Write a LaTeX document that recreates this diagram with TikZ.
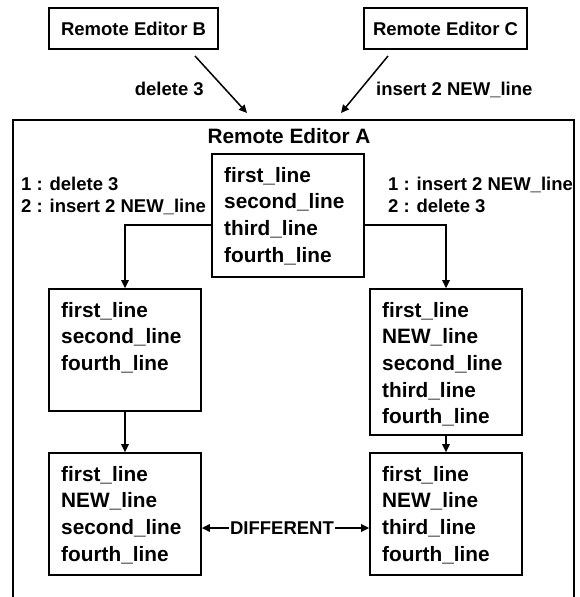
\documentclass[tikz,border=0pt]{standalone}
\usepackage{fontspec}
\setmainfont{Liberation Sans}
\usetikzlibrary{arrows.meta,calc}
\newcommand{\bigtxt}{\fontsize{20.8}{26.7}\selectfont\bfseries}
\newcommand{\smalltxt}{\fontsize{18.5}{22}\selectfont\bfseries}
\tikzset{
  boxnode/.style={draw, line width=1.8pt, inner sep=0pt},
  lines/.style={inner sep=0pt, anchor=base west, font=\bigtxt},
  lbl/.style={inner sep=0pt, font=\smalltxt},
  arr/.style={line width=1.5pt, -{Triangle[length=8pt,width=7.5pt]}},
  frame/.style={line width=1.8pt}
}
\begin{document}
\begin{tikzpicture}[x=1pt,y=-1pt]
\useasboundingbox (0,0) rectangle (579,597);
% outer frame (open at the bottom)
\draw[frame] (13,597) -- (13,120) -- (574,120) -- (574,597);
\node[font=\bigtxt, inner sep=0pt, anchor=base] (titleA) at (289,143) {Remote Editor A};

% top editors
\node[boxnode, minimum width=169pt, minimum height=41pt, font=\smalltxt] (B) at (133.5,28.5) {Remote Editor B};
\node[boxnode, minimum width=163pt, minimum height=41pt, font=\smalltxt] (C) at (445.5,28.5) {Remote Editor C};
\coordinate (bs) at (195,56);
\coordinate (be) at (247,113);
\coordinate (cs) at (388,56);
\coordinate (ce) at (341,113);
\draw[arr] (bs) -- (be);
\draw[arr] (cs) -- (ce);
\node[lbl, anchor=base east] (lblB) at (204,95) {delete 3};
\node[lbl, anchor=base west] (lblC) at (376,95) {insert 2 NEW\_line};

% boxes
\node[boxnode, minimum width=152pt, minimum height=123pt] (ctr) at (288,215.5) {};
\node[boxnode, minimum width=152pt, minimum height=122pt] (l1) at (125,350) {};
\node[boxnode, minimum width=152pt, minimum height=146pt] (r1) at (446,362) {};
\node[boxnode, minimum width=152pt, minimum height=122pt] (l2) at (125,514) {};
\node[boxnode, minimum width=152pt, minimum height=122pt] (r2) at (446,514) {};

% box contents
\node[lines] (ctrtxt) at (224,182) {\begin{tabular}[t]{@{}l@{}}first\_line\\second\_line\\third\_line\\fourth\_line\end{tabular}};
\node[lines] (l1txt) at (61,317) {\begin{tabular}[t]{@{}l@{}}first\_line\\second\_line\\fourth\_line\end{tabular}};
\node[lines] (r1txt) at (382,317) {\begin{tabular}[t]{@{}l@{}}first\_line\\NEW\_line\\second\_line\\third\_line\\fourth\_line\end{tabular}};
\node[lines] (l2txt) at (61,481) {\begin{tabular}[t]{@{}l@{}}first\_line\\NEW\_line\\second\_line\\fourth\_line\end{tabular}};
\node[lines] (r2txt) at (382,481) {\begin{tabular}[t]{@{}l@{}}first\_line\\NEW\_line\\third\_line\\fourth\_line\end{tabular}};

% side labels
\node[lbl, anchor=base west] (lblL) at (21,190) {\begin{tabular}[t]{@{}l@{}}1 : delete 3\\2 : insert 2 NEW\_line\end{tabular}};
\node[lbl, anchor=base west] (lblR) at (388,190) {\begin{tabular}[t]{@{}l@{}}1 : insert 2 NEW\_line\\2 : delete 3\end{tabular}};

% connectors
\draw[arr] ([yshift=-9.5pt]ctr.west) -| (l1.north);
\draw[arr] ([yshift=-9.5pt]ctr.east) -| (r1.north);
\draw[arr] (l1.south) -- (l2.north);
\draw[arr] (r1.south) -- (r2.north);

\node[lbl, inner sep=1pt] (diff) at (282,528) {DIFFERENT};
\draw[arr] (diff.west) -- (diff.west -| l2.east);
\draw[arr] (diff.east) -- (diff.east -| r2.west);
\end{tikzpicture}
\end{document}
